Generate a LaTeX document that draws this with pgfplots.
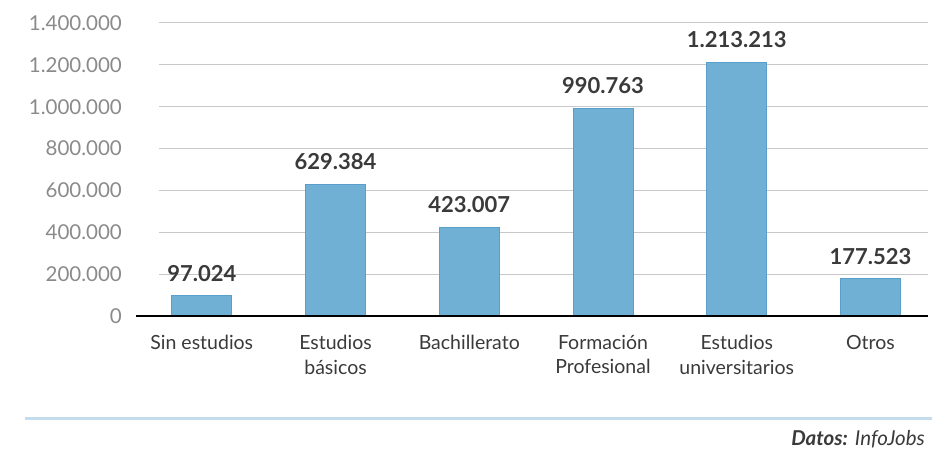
\documentclass[border=0pt]{standalone}
\usepackage{pgfplots}
\pgfplotsset{compat=1.18}
\usepackage{fontspec}
\setmainfont{Lato}

\definecolor{barfill}{HTML}{70B0D5}
\definecolor{baredge}{HTML}{5A9FCB}
\definecolor{ticktext}{HTML}{8A8A8A}
\definecolor{cattext}{HTML}{3A3A3A}
\definecolor{valtext}{HTML}{3A3A3A}
\definecolor{gridc}{HTML}{C8C8C8}
\definecolor{baseline}{HTML}{555555}
\definecolor{rule}{HTML}{C4DCEC}

\begin{document}
\begin{tikzpicture}[x=1pt,y=1pt]
\path[use as bounding box] (0,0) rectangle (932,453);
\begin{axis}[
  at={(159pt,137pt)}, anchor=south west,
  scale only axis, width=769pt, height=293pt,
  xmin=-0.32, xmax=5.43,
  ymin=0, ymax=1400000,
  ybar, bar width=60pt,
  axis line style={draw=none},
  major tick length=0pt,
  ymajorgrids,
  grid style={draw=gridc, line width=1pt},
  ytick={0,200000,400000,600000,800000,1000000,1200000,1400000},
  scaled y ticks=false,
  /pgf/number format/assume math mode=true,
  /pgf/number format/.cd, fixed, 1000 sep={.},
  /pgfplots/.cd,
  yticklabel style={font=\fontsize{20.5}{20.5}\selectfont, text=ticktext,
    anchor=east, inner sep=0pt, xshift=-37pt},
  xtick={0,1,2,3,4,5},
  xticklabels={Sin estudios, Estudios\\básicos, Bachillerato,
    Formación\\Profesional, Estudios\\universitarios, Otros},
  xticklabel style={font=\fontsize{19.5}{24.5}\selectfont, text=cattext,
    align=center, anchor=north, inner sep=0pt, yshift=-19pt},
  nodes near coords,
  every node near coord/.append style={font=\bfseries\fontsize{22}{22}\selectfont,
    text=valtext, anchor=south, inner sep=0pt, yshift=14pt},
  clip=false,
]
\addplot[fill=barfill, draw=baredge, line width=1pt]
  coordinates {(0,97024) (1,629384) (2,423007) (3,990763) (4,1213213) (5,177523)};
\draw[baseline, line width=2pt] (axis cs:-0.49,0) -- (axis cs:5.43,0);
\end{axis}
\draw[rule, line width=3pt] (25,35) -- (932,35);
\node[anchor=base east, inner sep=0pt, text=cattext,
  font=\fontsize{20.5}{20.5}\selectfont] at (925,8)
  {\textbf{\textit{Datos:}} \textit{InfoJobs}};
\end{tikzpicture}
\end{document}
